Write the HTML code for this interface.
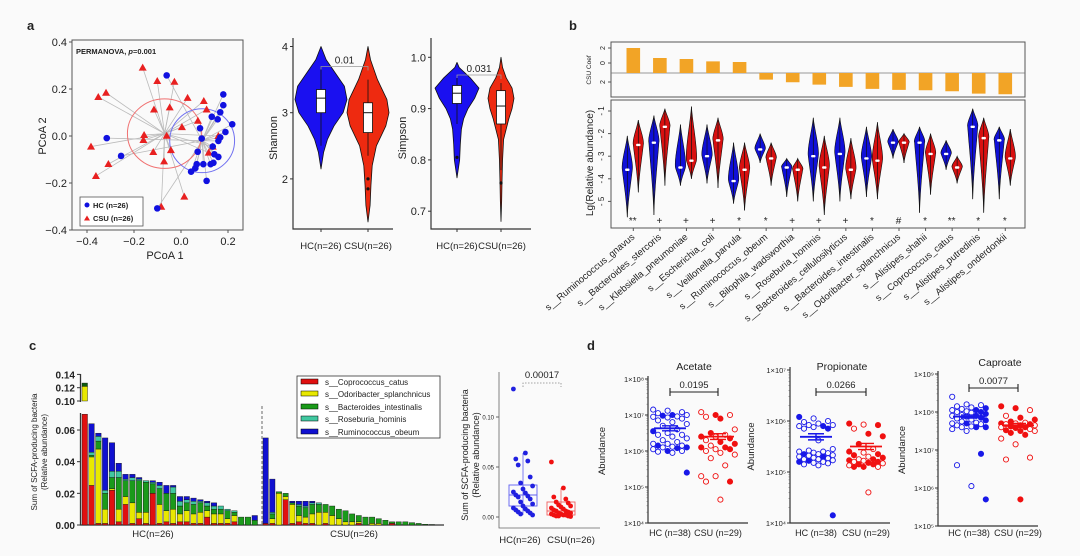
<!DOCTYPE html>
<html><head><meta charset="utf-8">
<style>
html,body{margin:0;padding:0;background:#fafafa;}
svg{display:block;font-family:"Liberation Sans",Arial,sans-serif;}
text{fill:#222;}
</style></head>
<body>
<svg id="fig" width="1080" height="556" viewBox="0 0 1080 556" xmlns="http://www.w3.org/2000/svg">
<rect x="0" y="0" width="1080" height="556" fill="#fafafa"/>
<text x="27" y="30" font-size="13" font-weight="bold">a</text>
<text x="569" y="30" font-size="13" font-weight="bold">b</text>
<text x="29" y="350" font-size="13" font-weight="bold">c</text>
<text x="587" y="350" font-size="13" font-weight="bold">d</text>

<rect x="72" y="40" width="171" height="190" fill="none" stroke="#555" stroke-width="1"/>
<text x="76" y="54" font-size="7.5" font-weight="bold">PERMANOVA, <tspan font-style="italic">p</tspan>=0.001</text>
<text x="165" y="259" font-size="11" text-anchor="middle" fill="#444">PCoA 1</text>
<text x="0" y="0" font-size="11" text-anchor="middle" transform="translate(46,136) rotate(-90)">PCoA 2</text>
<g id="pcoa"></g>
<rect x="80" y="197" width="63" height="29" fill="#fff" stroke="#555" stroke-width="0.8"/>
<circle cx="87" cy="205" r="2.5" fill="#1010e0"/>
<text x="93" y="208" font-size="7.5" font-weight="bold">HC (n=26)</text>
<polygon points="87,215.5 90,220.5 84,220.5" fill="#e82020"/>
<text x="93" y="221" font-size="7.5" font-weight="bold">CSU (n=26)</text>

<g id="shannon"></g>
<text x="0" y="0" font-size="11" text-anchor="middle" transform="translate(277,138) rotate(-90)">Shannon</text>
<text x="321" y="249" font-size="9.5" text-anchor="middle">HC(n=26)</text>
<text x="368" y="249" font-size="9.5" text-anchor="middle">CSU(n=26)</text>
<g id="simpson"></g>
<text x="0" y="0" font-size="11" text-anchor="middle" transform="translate(406,138) rotate(-90)">Simpson</text>
<text x="457" y="249" font-size="9.5" text-anchor="middle">HC(n=26)</text>
<text x="502" y="249" font-size="9.5" text-anchor="middle">CSU(n=26)</text>

<rect x="611" y="42" width="414" height="55" fill="none" stroke="#555" stroke-width="1"/>
<rect x="611" y="100" width="414" height="128" fill="none" stroke="#555" stroke-width="1"/>
<text x="0" y="0" font-size="6.5" text-anchor="middle" transform="translate(591,70) rotate(-90)">CSU Coef</text>
<text x="0" y="0" font-size="10" text-anchor="middle" transform="translate(593,163) rotate(-90)">Lg(Relative abundance)</text>
<g id="panelb"></g>

<g id="panelc"></g>
<text x="0" y="0" font-size="8" text-anchor="middle" transform="translate(37,452) rotate(-90)">Sum of SCFA-producing bacteria</text>
<text x="0" y="0" font-size="8" text-anchor="middle" transform="translate(47,452) rotate(-90)">(Relative abundance)</text>
<text x="153" y="537" font-size="9.5" text-anchor="middle">HC(n=26)</text>
<text x="354" y="537" font-size="9.5" text-anchor="middle">CSU(n=26)</text>
<g>
<rect x="297" y="376" width="143" height="62" fill="#fff" stroke="#333" stroke-width="0.8"/>
<rect x="301" y="379" width="17" height="5" fill="#e01010" stroke="#000" stroke-width="0.5"/>
<text x="325" y="385" font-size="8">s__Coprococcus_catus</text>
<rect x="301" y="391" width="17" height="5" fill="#e8e800" stroke="#000" stroke-width="0.5"/>
<text x="325" y="397" font-size="8">s__Odoribacter_splanchnicus</text>
<rect x="301" y="404" width="17" height="5" fill="#1a9a1a" stroke="#000" stroke-width="0.5"/>
<text x="325" y="410" font-size="8">s__Bacteroides_intestinalis</text>
<rect x="301" y="416" width="17" height="5" fill="#40c8a0" stroke="#000" stroke-width="0.5"/>
<text x="325" y="422" font-size="8">s__Roseburia_hominis</text>
<rect x="301" y="429" width="17" height="5" fill="#1010d0" stroke="#000" stroke-width="0.5"/>
<text x="325" y="435" font-size="8">s__Ruminococcus_obeum</text>
</g>
<g id="boxc"></g>
<text x="0" y="0" font-size="9" text-anchor="middle" transform="translate(468,455) rotate(-90)">Sum of SCFA-producing bacteria</text>
<text x="0" y="0" font-size="9" text-anchor="middle" transform="translate(479,455) rotate(-90)">(Relative abundance)</text>
<text x="520" y="543" font-size="9.5" text-anchor="middle">HC(n=26)</text>
<text x="571" y="543" font-size="9.5" text-anchor="middle">CSU(n=26)</text>

<g id="paneld"></g>
</svg>
<script>
const NS='http://www.w3.org/2000/svg';
function mk(tag,attrs,parent){const e=document.createElementNS(NS,tag);for(const k in attrs)e.setAttribute(k,attrs[k]);parent.appendChild(e);return e;}

const pcoaTicks=[-0.4,-0.2,0.0,0.2];
const pcoaYTicks=[0.4,0.2,0.0,-0.2,-0.4];
const csuPcX=[-0.163,-0.101,-0.028,-0.319,-0.352,0.028,0.097,-0.115,-0.048,0.109,0.072,0.004,-0.061,-0.157,-0.160,-0.383,-0.118,-0.043,0.118,0.135,0.159,-0.072,-0.309,-0.362,0.014,-0.084];
const csuPcY=[0.291,0.234,0.231,0.184,0.166,0.162,0.149,0.113,0.122,0.113,0.065,0.038,0.001,0.004,-0.017,-0.045,-0.068,-0.060,-0.071,-0.045,0.0,-0.108,-0.119,-0.170,-0.258,-0.301];
const hcPcX=[-0.061,0.180,0.180,0.167,0.131,0.156,0.218,0.081,0.189,0.167,0.088,0.159,0.135,0.071,0.142,0.159,0.095,0.067,0.043,0.061,0.109,0.126,-0.316,-0.255,-0.101,0.138];
const hcPcY=[0.258,0.177,0.131,0.101,0.082,0.071,0.050,0.033,0.017,-0.006,-0.011,-0.021,-0.045,-0.067,-0.078,-0.089,-0.120,-0.120,-0.152,-0.137,-0.191,-0.120,-0.009,-0.085,-0.308,-0.114];
const centroids=[[-0.07,0.01],[0.09,-0.02]];
const ellipseR=[[0.158,0.148],[0.138,0.136]];

const shannonTicks=[4,3,2];
const shHcVals=[2.15,2.4,2.6,2.8,3.0,3.2,3.4,3.6,3.8,4.0];
const shHcDens=[0,0.1,0.25,0.5,0.85,1.0,0.9,0.55,0.2,0];
const shCsuVals=[1.35,1.6,1.9,2.2,2.5,2.8,3.0,3.2,3.5,3.8,4.0];
const shCsuDens=[0,0.1,0.14,0.2,0.4,0.85,1.0,0.9,0.45,0.12,0];
const shHcBox=[2.5,3.0,3.22,3.35,3.7];
const shCsuBox=[2.35,2.7,3.0,3.15,3.5];
const shCsuOut=[2.0,1.85];
const simpsonTicks=[1.0,0.9,0.8,0.7];
const siHcVals=[0.765,0.8,0.83,0.86,0.88,0.9,0.92,0.94,0.96,0.98,0.99];
const siHcDens=[0,0.12,0.15,0.2,0.3,0.5,0.8,1.0,0.6,0.1,0];
const siCsuVals=[0.68,0.72,0.76,0.8,0.84,0.88,0.9,0.92,0.94,0.96,0.98,1.0];
const siCsuDens=[0,0.05,0.08,0.12,0.2,0.6,0.85,1.0,0.85,0.4,0.12,0];
const siHcBox=[0.87,0.91,0.93,0.945,0.96];
const siCsuBox=[0.78,0.87,0.905,0.935,0.95];
const siHcOut=[0.805];
const siCsuOut=[0.755];

const species=['s__Ruminococcus_gnavus','s__Bacteroides_stercoris','s__Klebsiella_pneumoniae','s__Escherichia_coli','s__Veillonella_parvula','s__Ruminococcus_obeum','s__Bilophila_wadsworthia','s__Roseburia_hominis','s__Bacteroides_cellulosilyticus','s__Bacteroides_intestinalis','s__Odoribacter_splanchnicus','s__Alistipes_shahii','s__Coprococcus_catus','s__Alistipes_putredinis','s__Alistipes_onderdonkii'];
const coef=[2.0,1.2,1.12,0.93,0.88,-0.53,-0.74,-0.93,-1.11,-1.27,-1.35,-1.38,-1.46,-1.65,-1.70];
const sig=['**','+','+','+','*','*','+','+','+','*','#','*','**','*','*'];
const bMed=[-3.6,-2.4,-3.5,-3.0,-4.1,-2.7,-3.5,-3.0,-2.9,-3.1,-2.4,-2.4,-2.9,-1.7,-2.3];
const bMax=[-2.1,-1.2,-1.6,-1.6,-2.4,-2.0,-3.1,-1.3,-1.3,-1.7,-1.8,-1.7,-2.3,-0.9,-1.7];
const bMin=[-5.7,-5.6,-4.3,-4.2,-5.1,-3.3,-4.8,-5.0,-5.0,-4.8,-3.1,-5.5,-3.6,-4.9,-4.9];
const rMed=[-2.5,-1.7,-3.2,-2.3,-3.6,-3.1,-3.6,-3.5,-3.6,-3.2,-2.4,-2.9,-3.5,-2.2,-3.1];
const rMax=[-1.4,-0.9,-0.8,-1.3,-2.4,-2.4,-3.1,-2.1,-2.2,-1.5,-2.0,-2.0,-3.0,-1.3,-1.8];
const rMin=[-4.6,-4.3,-4.0,-4.4,-5.4,-4.3,-5.0,-5.6,-4.9,-4.9,-3.3,-4.7,-4.2,-5.5,-4.3];
const lgTicks=[-1,-2,-3,-4,-5];

const barTicksLow=[0.00,0.02,0.04,0.06];
const barTicksHigh=[0.10,0.12,0.14];
const hcRed=[0.100,0.025,0.001,0.001,0.022,0.002,0.013,0.001,0.004,0.001,0.020,0.001,0.002,0.001,0.002,0.002,0.001,0.001,0.005,0.001,0.001,0.001,0.002,0,0,0];
const hcYellow=[0.022,0.018,0.047,0.009,0.001,0.008,0.005,0.013,0.004,0.007,0,0.012,0.007,0.009,0.005,0.007,0.006,0.007,0.004,0.006,0.006,0.003,0.004,0,0,0];
const hcGreen=[0.005,0.001,0.005,0.010,0.007,0.020,0.010,0.014,0.020,0.019,0.006,0.010,0.011,0.010,0.005,0.005,0.006,0.006,0.003,0.003,0.003,0.005,0.002,0.005,0.005,0.003];
const hcTeal=[0,0.002,0.003,0.002,0.004,0.004,0.001,0.002,0.001,0.001,0.001,0.002,0,0.004,0.003,0.002,0.002,0.001,0.002,0.002,0.002,0.001,0.001,0,0,0];
const hcBlue=[0,0.018,0.002,0.033,0.018,0.005,0.003,0.002,0.001,0,0.001,0.002,0.005,0.001,0.003,0.002,0.002,0.001,0.001,0.002,0,0,0,0,0,0.003];
const csuRed=[0.001,0.001,0,0.016,0.001,0.002,0.001,0.001,0,0.001,0,0,0,0,0.001,0,0,0,0,0.001,0,0,0,0,0,0];
const csuYellow=[0,0.003,0.020,0.002,0.012,0.004,0.004,0.006,0.008,0.007,0.006,0.004,0.002,0.002,0.001,0,0.001,0.001,0,0,0,0,0,0,0,0];
const csuGreen=[0,0.003,0.001,0.002,0.001,0.006,0.006,0.006,0.005,0.005,0.006,0.006,0.007,0.005,0.004,0.005,0.004,0.003,0.003,0.001,0.002,0.002,0.0015,0.001,0.0005,0.0003];
const csuTeal=[0,0.001,0,0,0,0.001,0.001,0.001,0.001,0,0,0,0,0,0,0,0,0,0,0,0,0,0,0,0,0];
const csuBlue=[0.054,0.021,0,0,0.001,0.002,0.003,0.001,0,0,0,0,0,0,0,0,0,0,0,0,0,0,0,0,0,0];
const boxTicks=[0.00,0.05,0.10];
const boxHc=[0.128,0.064,0.058,0.056,0.052,0.040,0.034,0.031,0.028,0.025,0.024,0.022,0.021,0.020,0.018,0.015,0.013,0.011,0.009,0.008,0.007,0.006,0.005,0.004,0.003,0.002];
const boxCsu=[0.055,0.029,0.020,0.018,0.015,0.014,0.012,0.011,0.010,0.009,0.008,0.007,0.006,0.006,0.005,0.004,0.004,0.003,0.003,0.002,0.002,0.002,0.001,0.001,0.001,0.0005];
const boxHcStats=[0.002,0.011,0.022,0.032,0.064];
const boxCsuStats=[0.0,0.002,0.006,0.015,0.029];

const acetHc=[7.15,7.12,7.08,7.05,7.0,7.0,6.98,6.96,6.95,6.93,6.9,6.85,6.8,6.75,6.7,6.6,6.55,6.5,6.45,6.45,6.4,6.35,6.3,6.25,6.2,6.2,6.15,6.15,6.12,6.1,6.1,6.08,6.05,6.0,6.0,5.98,5.95,5.4];
const acetHcFill=[0,0,0,0,1,0,1,0,0,0,0,0,0,0,0,0,1,0,0,0,0,0,0,0,0,0,0,1,0,1,0,1,0,1,0,0,0,1];
const acetCsu=[7.08,7.0,7.0,6.95,6.9,6.6,6.5,6.45,6.4,6.4,6.35,6.3,6.25,6.2,6.15,6.1,6.1,6.05,6.05,6.0,5.95,5.9,5.8,5.6,5.3,5.3,5.15,5.15,4.65];
const acetCsuFill=[0,1,0,0,1,0,1,0,1,0,1,0,1,1,0,1,1,0,1,0,0,0,0,0,0,0,1,0,0];
const propHc=[6.08,6.05,6.0,5.98,5.95,5.92,5.92,5.9,5.9,5.88,5.85,5.85,5.62,5.45,5.42,5.4,5.4,5.38,5.37,5.35,5.35,5.33,5.32,5.3,5.3,5.28,5.27,5.25,5.25,5.23,5.22,5.2,5.2,5.18,5.17,5.15,5.13,4.15];
const propHcFill=[1,0,0,0,0,0,0,1,0,0,1,0,0,0,0,0,0,0,0,1,0,0,0,1,0,0,0,0,0,0,1,0,1,0,0,0,0,1];
const propCsu=[5.95,5.93,5.92,5.85,5.75,5.7,5.55,5.45,5.4,5.38,5.35,5.33,5.3,5.28,5.25,5.25,5.23,5.22,5.2,5.2,5.18,5.17,5.15,5.15,5.13,5.1,5.1,5.1,4.6];
const propCsuFill=[1,0,1,0,1,1,1,0,1,0,1,1,0,1,0,1,1,0,1,0,1,0,1,1,0,1,0,1,0];
const caprHc=[8.4,8.2,8.18,8.15,8.12,8.1,8.08,8.05,8.05,8.02,8.0,8.0,7.98,7.95,7.92,7.9,7.9,7.88,7.85,7.83,7.8,7.78,7.75,7.72,7.7,7.7,7.68,7.65,7.62,7.6,7.6,7.6,7.55,7.5,6.9,6.6,6.05,5.7];
const caprHcFill=[0,0,0,0,0,1,0,1,0,0,1,0,0,1,0,1,0,0,1,0,0,1,0,0,0,1,0,0,0,1,0,1,0,0,1,0,0,1];
const caprCsu=[8.15,8.1,8.05,7.9,7.85,7.8,7.75,7.72,7.7,7.7,7.68,7.68,7.65,7.65,7.62,7.6,7.6,7.58,7.55,7.52,7.5,7.5,7.45,7.4,7.3,7.15,6.8,6.75,5.7];
const caprCsuFill=[1,1,0,0,1,1,1,0,1,0,1,0,1,0,1,1,0,1,0,1,1,0,1,1,0,0,0,0,1];
const dMeans=[[6.63,6.40],[5.69,5.50],[7.88,7.65]];
const dSems=[[0.07,0.08],[0.06,0.06],[0.04,0.05]];
const dTitles=['Acetate','Propionate','Caproate'];
const dPvals=['0.0195','0.0266','0.0077'];
const dExpRange=[[4,8],[4,7],[5,9]];

(function(){
const g=document.getElementById('pcoa');
const sx=v=>181+v*235, sy=v=>136-v*235;
pcoaTicks.forEach(t=>{
 const tk=mk('line',{x1:sx(t),x2:sx(t),y1:230,y2:233,stroke:'#555'},g);
 
 
 const tx=mk('text',{x:sx(t),y:245,'font-size':11,'text-anchor':'middle',fill:'#444'},g);tx.textContent=t.toFixed(1).replace('-','−');
 
 
});
pcoaYTicks.forEach(t=>{
 const tk=mk('line',{x1:69,x2:72,y1:sy(t),y2:sy(t),stroke:'#555'},g);
 
 
 const tx=mk('text',{x:67,y:sy(t)+4,'font-size':11,'text-anchor':'end',fill:'#444'},g);tx.textContent=t.toFixed(1).replace('-','−');
 
 
});
csuPcX.forEach((x,i)=>{const l=mk('line',{x1:sx(x),y1:sy(csuPcY[i]),x2:sx(centroids[0][0]),y2:sy(centroids[0][1]),stroke:'#bbb','stroke-width':0.8},g);
 
 });
hcPcX.forEach((x,i)=>{const l=mk('line',{x1:sx(x),y1:sy(hcPcY[i]),x2:sx(centroids[1][0]),y2:sy(centroids[1][1]),stroke:'#bbb','stroke-width':0.8},g);
 
 });
const e1=mk('ellipse',{cx:sx(centroids[0][0]),cy:sy(centroids[0][1]),rx:ellipseR[0][0]*235,ry:ellipseR[0][1]*235,fill:'none',stroke:'#f07070','stroke-width':1},g);


const e2=mk('ellipse',{cx:sx(centroids[1][0]),cy:sy(centroids[1][1]),rx:ellipseR[1][0]*235,ry:ellipseR[1][1]*235,fill:'none',stroke:'#7070f0','stroke-width':1},g);


csuPcX.forEach((x,i)=>{const X=sx(x),Y=sy(csuPcY[i]);
 const p=mk('polygon',{points:`${X},${Y-4} ${X+4},${Y+3} ${X-4},${Y+3}`,fill:'#e82020'},g);
 
 });
hcPcX.forEach((x,i)=>{const c=mk('circle',{cx:sx(x),cy:sy(hcPcY[i]),r:3.3,fill:'#1010e0'},g);
 
 });
})();

function violinPlot(gid,sy,ticks,axX,xs,vals,dens,halfw,boxes,outs,colors,pval,bY,fmt){
 const g=document.getElementById(gid);
 const ax=mk('path',{d:`M${axX},38 L${axX},229 L${axX+100},229`,fill:'none',stroke:'#333','stroke-width':1.2},g);
 
 
 ticks.forEach(t=>{
  const tk=mk('line',{x1:axX-3,x2:axX,y1:sy(t),y2:sy(t),stroke:'#333'},g);
  
  
  const tx=mk('text',{x:axX-5,y:sy(t)+4,'font-size':11,'text-anchor':'end',fill:'#333'},g);tx.textContent=fmt(t);
  
  
 });
 xs.forEach((cx,k)=>{
  const tk=mk('line',{x1:cx,x2:cx,y1:229,y2:232,stroke:'#333'},g);
  
  
  let right='',left='';
  vals[k].forEach((v,i)=>{right+=(i?'L':'M')+(cx+dens[k][i]*halfw[k])+','+sy(v);});
  for(let i=vals[k].length-1;i>=0;i--){left+='L'+(cx-dens[k][i]*halfw[k])+','+sy(vals[k][i]);}
  const p=mk('path',{d:right+left+'Z',fill:colors[k],stroke:'#111','stroke-width':0.8,'stroke-linejoin':'round'},g);
  
  
  const b=boxes[k];
  const wl=mk('line',{x1:cx,x2:cx,y1:sy(b[4]),y2:sy(b[0]),stroke:'#111','stroke-width':0.8},g);
  
  
  const bx=mk('rect',{x:cx-4.5,y:sy(b[3]),width:9,height:sy(b[1])-sy(b[3]),fill:'#fff',stroke:'#111','stroke-width':0.8},g);
  
  
  const md=mk('line',{x1:cx-4.5,x2:cx+4.5,y1:sy(b[2]),y2:sy(b[2]),stroke:'#111','stroke-width':1},g);
  
  
  outs[k].forEach(o=>{const c=mk('circle',{cx:cx,cy:sy(o),r:1.6,fill:'#111'},g);
   
   });
 });
 const br=mk('path',{d:`M${xs[0]},${bY+3} L${xs[0]},${bY} L${xs[1]},${bY} L${xs[1]},${bY+4}`,fill:'none',stroke:'#999','stroke-width':0.8},g);
 
 
 const pt=mk('text',{x:(xs[0]+xs[1])/2,y:bY-3,'font-size':10,'text-anchor':'middle',fill:'#444'},g);pt.textContent=pval;
 
 
}
violinPlot('shannon',v=>112.7-(v-3)*66.2,shannonTicks,293,[321,368],[shHcVals,shCsuVals],[shHcDens,shCsuDens],[26,21],[shHcBox,shCsuBox],[[],shCsuOut],['#1a10f0','#ee2a10'],'0.01',66.5,t=>String(t));
violinPlot('simpson',v=>108.6-(v-0.9)*513,simpsonTicks,431,[457,501],[siHcVals,siCsuVals],[siHcDens,siCsuDens],[22,13],[siHcBox,siCsuBox],[siHcOut,siCsuOut],['#1a10f0','#ee2a10'],'0.031',75,t=>t.toFixed(1));

(function(){
 const g=document.getElementById('panelb');
 const cx=i=>633.3+i*26.57;
 const cy=v=>73-v*12.5;
 const zl=mk('line',{x1:611,x2:1025,y1:73,y2:73,stroke:'#777','stroke-width':0.8},g);
 
 
 [['2',48],['0',63],['2',82]].forEach(a=>{
  const tk=mk('line',{x1:608,x2:611,y1:a[1],y2:a[1],stroke:'#555'},g);
  
  
  const t=mk('text',{x:0,y:0,'font-size':7,'text-anchor':'middle',transform:`translate(605,${a[1]}) rotate(-90)`},g);t.textContent=a[0];
  
  
 });
 coef.forEach((v,i)=>{
  const r=mk('rect',{x:cx(i)-6.8,y:Math.min(cy(v),73),width:13.6,height:Math.abs(v)*12.5,fill:'#f2a426'},g);
  
  
 });
 const ly=v=>111+(-1-v)*22.6;
 lgTicks.forEach(t=>{
  const tk=mk('line',{x1:608,x2:611,y1:ly(t),y2:ly(t),stroke:'#555'},g);
  
  
  const tx=mk('text',{x:0,y:0,'font-size':8,'text-anchor':'middle',transform:`translate(604,${ly(t)}) rotate(-90)`},g);tx.textContent='- '+Math.abs(t);
  
  
 });
 function vio(x,mx,md,mn,col,name){
  const yT=ly(mx),yM=ly(md),yB=ly(mn),w=5;
  const d=`M${x},${yT} C${x+0.2*w},${yT+0.3*(yM-yT)} ${x+1.3*w},${yM-0.2*(yM-yT)} ${x+w},${yM} C${x+0.7*w},${yM+0.3*(yB-yM)} ${x+0.15*w},${yB-0.4*(yB-yM)} ${x},${yB} C${x-0.15*w},${yB-0.4*(yB-yM)} ${x-0.7*w},${yM+0.3*(yB-yM)} ${x-w},${yM} C${x-1.3*w},${yM-0.2*(yM-yT)} ${x-0.2*w},${yT+0.3*(yM-yT)} ${x},${yT}Z`;
  const p=mk('path',{d:d,fill:col,stroke:'#111','stroke-width':0.6},g);
  
  
  const l=mk('line',{x1:x,x2:x,y1:yT,y2:yB,stroke:'#111','stroke-width':0.7},g);
  
  
  const m=mk('rect',{x:x-2.2,y:yM-1.2,width:4.4,height:2.4,rx:1,fill:'#fff'},g);
  
  
 }
 species.forEach((s,i)=>{
  vio(cx(i)-6,bMax[i],bMed[i],bMin[i],'#1010d8','hc-species-violin');
  vio(cx(i)+5,rMax[i],rMed[i],rMin[i],'#d81010','csu-species-violin');
  const st=mk('text',{x:cx(i)-0.5,y:224,'font-size':10,'text-anchor':'middle'},g);st.textContent=sig[i];
  
  
  const tk=mk('line',{x1:cx(i),x2:cx(i),y1:228,y2:231,stroke:'#555'},g);
  
  
  const lb=mk('text',{x:0,y:0,'font-size':9.5,'text-anchor':'end',transform:`translate(${cx(i)+2},238) rotate(-40)`},g);lb.textContent=s;
  
  
 });
})();

(function(){
 const g=document.getElementById('panelc');
 const yLow=v=>525-v*1583, yHigh=v=>401-(v-0.10)*665;
 const ax=mk('path',{d:'M80.5,413 L80.5,525 L444,525 M80.5,374 L80.5,402',fill:'none',stroke:'#333','stroke-width':1.3},g);
 
 
 barTicksLow.forEach(t=>{
  const tk=mk('line',{x1:77,x2:80.5,y1:yLow(t),y2:yLow(t),stroke:'#333'},g);
  
  
  const tx=mk('text',{x:75,y:yLow(t)+4,'font-size':10,'font-weight':'bold','text-anchor':'end'},g);tx.textContent=t.toFixed(2);
  
  
 });
 barTicksHigh.forEach(t=>{
  const tk=mk('line',{x1:77,x2:80.5,y1:yHigh(t),y2:yHigh(t),stroke:'#333'},g);
  
  
  const tx=mk('text',{x:75,y:yHigh(t)+4,'font-size':10,'font-weight':'bold','text-anchor':'end'},g);tx.textContent=t.toFixed(2);
  
  
 });
 const cols=['#e01010','#e8e800','#1a9a1a','#40c8a0','#1010d0'];
 const names=['coprococcus','odoribacter','bacteroides','roseburia','ruminococcus'];
 function seg(x,w,a,b,col,nm){
  if(a<0.07&&b>a){const hi=Math.min(b,0.07);
   const r=mk('rect',{x:x,y:yLow(hi),width:w,height:yLow(a)-yLow(hi),fill:col,stroke:'#111','stroke-width':0.4},g);
   
   }
  if(b>0.10){const lo=Math.max(a,0.10),hi=Math.min(b,0.14);
   if(hi>lo){const r=mk('rect',{x:x,y:yHigh(hi),width:w,height:yHigh(lo)-yHigh(hi),fill:col==='#1a9a1a'?'#0d5a0d':col,stroke:'#111','stroke-width':0.4},g);
   
   }}
 }
 function group(x0,step,arrs){
  arrs[0].forEach((_,i)=>{let acc=0;
   arrs.forEach((arr,k)=>{const v=arr[i];seg(x0+i*step,step-1.3,acc,acc+v,cols[k],names[k]);acc+=v;});});
 }
 group(82,6.8,[hcRed,hcYellow,hcGreen,hcTeal,hcBlue]);
 group(263,6.65,[csuRed,csuYellow,csuGreen,csuTeal,csuBlue]);
 const dl=mk('line',{x1:262,x2:262,y1:406,y2:525,stroke:'#444','stroke-width':0.8,'stroke-dasharray':'3,2'},g);
 
 
})();

(function(){
 const g=document.getElementById('boxc');
 const sy=v=>517-v*1000;
 const ax=mk('path',{d:'M499,372 L499,528 L600,528',fill:'none',stroke:'#666','stroke-width':0.8},g);
 
 
 boxTicks.forEach(t=>{
  const tk=mk('line',{x1:496,x2:499,y1:sy(t),y2:sy(t),stroke:'#666'},g);
  
  
  const tx=mk('text',{x:494,y:sy(t)+2.5,'font-size':6,'text-anchor':'end',fill:'#555'},g);tx.textContent=t.toFixed(2);
  
  
 });
 [[523,boxHc,boxHcStats,'#2020e0','#6060f0'],[561,boxCsu,boxCsuStats,'#f01010','#f06060']].forEach((G,k)=>{
  const [cx,pts,s,col,lcol]=G;
  const wl=mk('line',{x1:cx,x2:cx,y1:sy(s[4]),y2:sy(s[0]),stroke:lcol,'stroke-width':0.8},g);
  
  
  const r=mk('rect',{x:cx-14,y:sy(s[3]),width:28,height:sy(s[1])-sy(s[3]),fill:'none',stroke:lcol,'stroke-width':0.9},g);
  
  
  const m=mk('line',{x1:cx-14,x2:cx+14,y1:sy(s[2]),y2:sy(s[2]),stroke:lcol,'stroke-width':1},g);
  
  
  pts.forEach((v,i)=>{const c=mk('circle',{cx:cx+((i*5)%9-4)*2.4,cy:sy(v),r:2.4,fill:col},g);
   
   });
 });
 const br=mk('path',{d:'M523,387 L523,383 L561,383 L561,387',fill:'none',stroke:'#888','stroke-width':0.8,'stroke-dasharray':'1.5,1.5'},g);
 
 
 const pt=mk('text',{x:542,y:378,'font-size':9.5,'text-anchor':'middle',fill:'#333'},g);pt.textContent='0.00017';
 
 
})();

(function(){
 const g=document.getElementById('paneld');
 const cfgs=[
  {ax:648,top:379,bot:523,hc:670,csu:718,title:[694,370],br:392,yl:605,data:[acetHc,acetCsu],fill:[acetHcFill,acetCsuFill]},
  {ax:790,top:370,bot:523,hc:816,csu:866,title:[842,370],br:392,yl:754,data:[propHc,propCsu],fill:[propHcFill,propCsuFill]},
  {ax:938,top:374,bot:526,hc:969,csu:1018,title:[1000,366],br:388,yl:905,data:[caprHc,caprCsu],fill:[caprHcFill,caprCsuFill]}];
 const sup={'4':'⁴','5':'⁵','6':'⁶','7':'⁷','8':'⁸','9':'⁹'};
 cfgs.forEach((c,k)=>{
  const [e0,e1]=dExpRange[k];
  const sy=v=>c.bot-(v-e0)*(c.bot-c.top)/(e1-e0);
  const ax=mk('path',{d:`M${c.ax},${c.top-3} L${c.ax},${c.bot} L${c.ax+100},${c.bot}`,fill:'none',stroke:'#333','stroke-width':1.2},g);
  
  
  for(let e=e0;e<=e1;e++){
   const tk=mk('line',{x1:c.ax-3,x2:c.ax,y1:sy(e),y2:sy(e),stroke:'#333'},g);
   
   
   if(e<e1){for(let m=2;m<10;m++){const yy=sy(e+Math.log10(m));
    const mt=mk('line',{x1:c.ax-1.5,x2:c.ax,y1:yy,y2:yy,stroke:'#555','stroke-width':0.5},g);
    
    }}
   const tx=mk('text',{x:c.ax-4,y:sy(e)+3,'font-size':7.5,'text-anchor':'end'},g);tx.textContent='1×10'+sup[e];
   
   
  }
  const yl=mk('text',{x:0,y:0,'font-size':9.5,'text-anchor':'middle',transform:`translate(${c.yl},${(c.top+c.bot)/2}) rotate(-90)`},g);yl.textContent='Abundance';
  
  
  const tt=mk('text',{x:c.title[0],y:c.title[1],'font-size':10.5,'text-anchor':'middle'},g);tt.textContent=dTitles[k];
  
  
  const br=mk('path',{d:`M${c.hc},${c.br-4} L${c.hc},${c.br+4} M${c.hc},${c.br} L${c.csu},${c.br} M${c.csu},${c.br-4} L${c.csu},${c.br+4}`,fill:'none',stroke:'#222','stroke-width':1.1},g);
  
  
  const pv=mk('text',{x:(c.hc+c.csu)/2,y:c.br-4,'font-size':9.5,'text-anchor':'middle'},g);pv.textContent=dPvals[k];
  
  
  const xh=mk('text',{x:c.hc,y:536,'font-size':9,'text-anchor':'middle'},g);xh.textContent='HC (n=38)';
  
  
  const xc=mk('text',{x:c.csu,y:536,'font-size':9,'text-anchor':'middle'},g);xc.textContent='CSU (n=29)';
  
  
  [c.hc,c.csu].forEach((cx,gi)=>{
   const col=gi?'#f01010':'#1818e8';
   c.data[gi].forEach((v,i)=>{
    const off=((i*3)%8-3.5)*4.8;
    const f=c.fill[gi][i];
    const p=mk('circle',{cx:cx+off,cy:sy(v),r:2.6,fill:f?col:'#fafafa',stroke:col,'stroke-width':0.9},g);
    
    
   });
   const mn=dMeans[k][gi],se=dSems[k][gi];
   const ml=mk('line',{x1:cx-16,x2:cx+16,y1:sy(mn),y2:sy(mn),stroke:col,'stroke-width':1.8},g);
   
   
   const el=mk('path',{d:`M${cx},${sy(mn+se)} L${cx},${sy(mn-se)} M${cx-8},${sy(mn+se)} L${cx+8},${sy(mn+se)} M${cx-8},${sy(mn-se)} L${cx+8},${sy(mn-se)}`,fill:'none',stroke:col,'stroke-width':1.4},g);
   
   
  });
 });
})();
</script>
</body></html>
